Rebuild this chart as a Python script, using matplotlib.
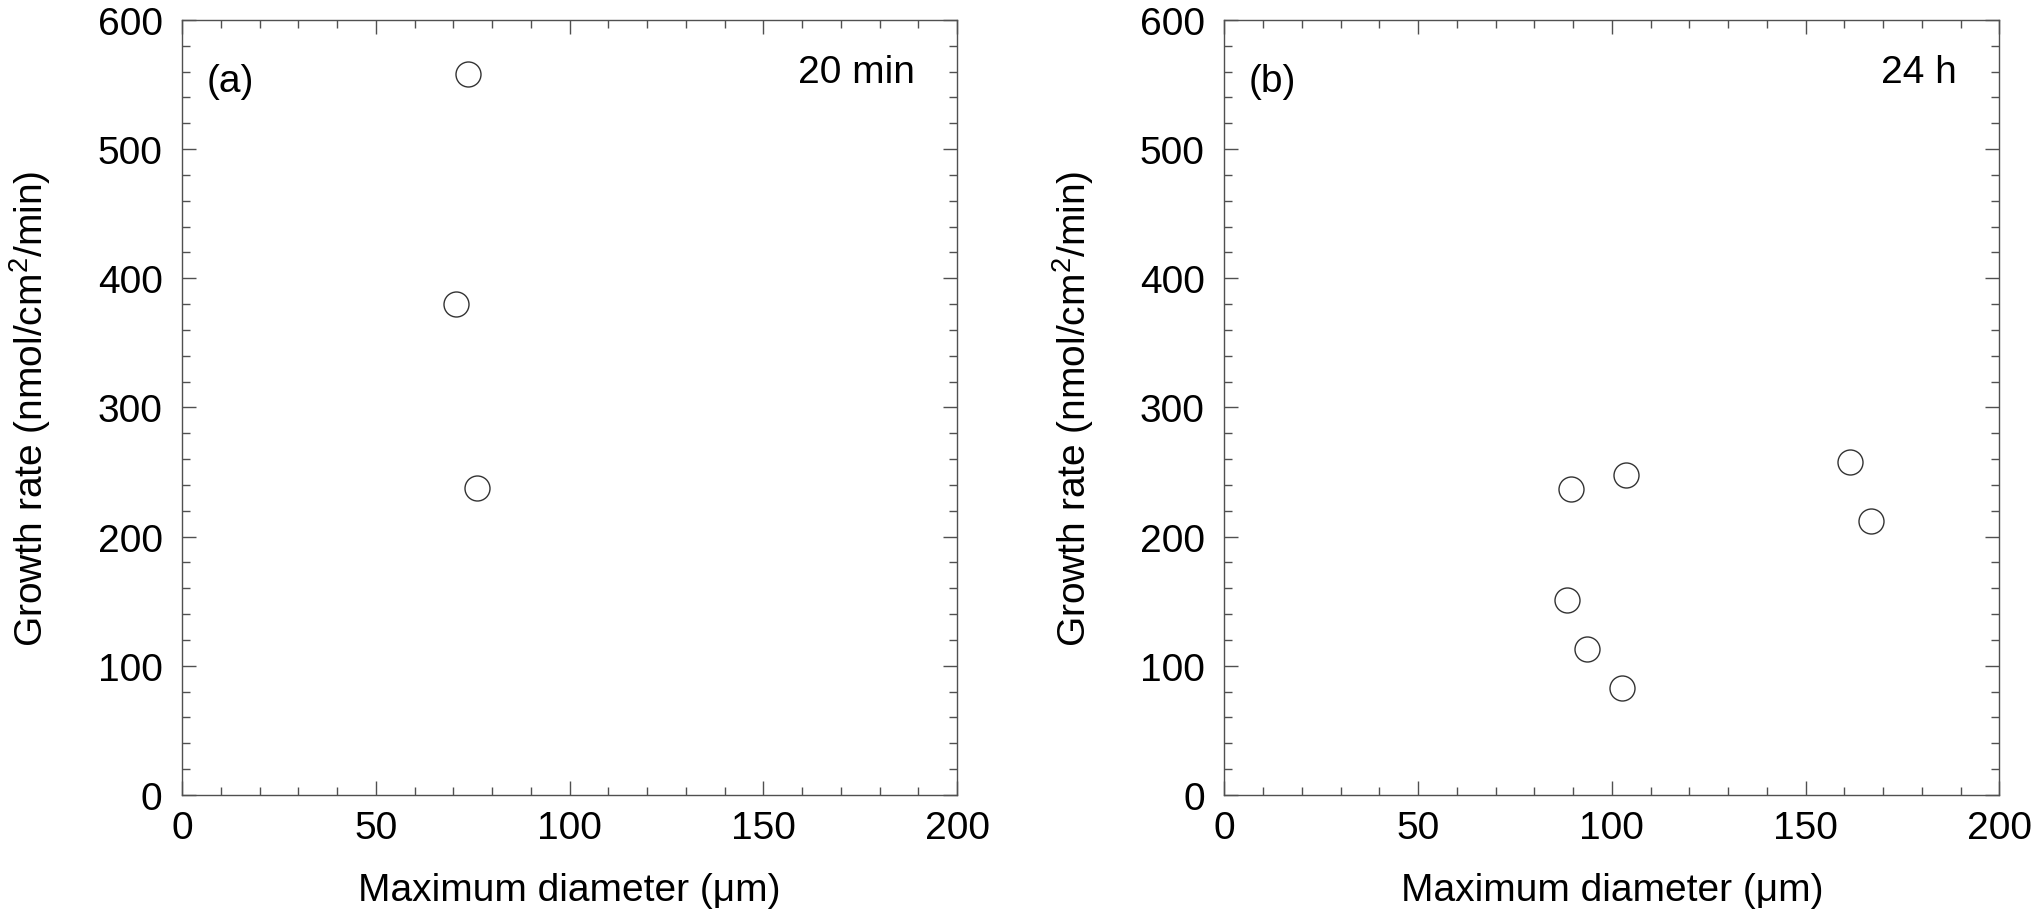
import matplotlib
matplotlib.use("Agg")
import matplotlib.pyplot as plt
from matplotlib.ticker import MultipleLocator

plt.rcParams['font.family'] = ['Liberation Sans', 'DejaVu Sans']
plt.rcParams['mathtext.fontset'] = 'custom'
plt.rcParams['mathtext.rm'] = 'Liberation Sans'

# data
diam_20min = [73.7, 70.6, 76.0]
rate_20min = [558, 380, 238]

diam_24h = [89.4, 103.7, 161.4, 166.9, 88.5, 93.5, 102.6]
rate_24h = [237, 248, 258, 212, 151, 113, 83]

panels = [
    ("(a)", "20 min", diam_20min, rate_20min, 0.0896),
    ("(b)", "24 h", diam_24h, rate_24h, 0.6025),
]

fig = plt.figure(figsize=(20.32, 9.12), dpi=100)
edge = '#505050'

for tag, label, xs, ys, left in panels:
    ax = fig.add_axes([left, 0.1272, 0.3814, 0.8498])
    ax.plot(xs, ys, 'o', ms=18, mfc='white', mec='#333333', mew=1.0, ls='none')
    ax.set_xlim(0, 200)
    ax.set_ylim(0, 600)
    ax.xaxis.set_major_locator(MultipleLocator(50))
    ax.xaxis.set_minor_locator(MultipleLocator(10))
    ax.yaxis.set_major_locator(MultipleLocator(100))
    ax.yaxis.set_minor_locator(MultipleLocator(20))
    ax.tick_params(which='both', direction='in', top=True, right=True,
                   color=edge, width=1.0)
    ax.tick_params(which='major', length=10, labelsize=28)
    ax.tick_params(axis='x', which='major', pad=11)
    ax.tick_params(axis='y', which='major', pad=14)
    ax.tick_params(which='minor', length=5.5)
    for s in ax.spines.values():
        s.set_color(edge)
        s.set_linewidth(1.0)
    ax.set_xlabel('Maximum diameter (μm)', fontsize=28)
    ax.set_ylabel('Growth rate (nmol/cm$^2$/min)', fontsize=28)
    ax.xaxis.set_label_coords(0.5, -0.099)
    ax.yaxis.set_label_coords(-0.166, 0.5)
    ax.text(0.032, 0.921, tag, transform=ax.transAxes, fontsize=28,
            ha='left', va='center')
    ax.text(0.945, 0.9335, label, transform=ax.transAxes, fontsize=28,
            ha='right', va='center')

fig.savefig('out.png', dpi=100)
